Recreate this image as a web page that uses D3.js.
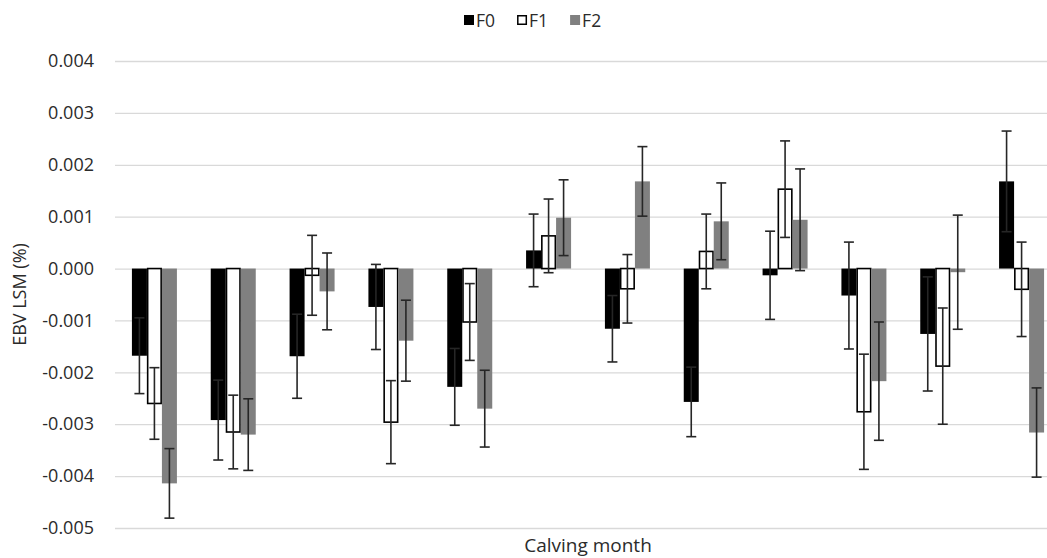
<!DOCTYPE html>
<html>
<head>
<meta charset="utf-8">
<script src="https://cdn.jsdelivr.net/npm/d3@7"></script>
<style>
  body { margin: 0; background: #fff; }
  svg { display: block; font-family: "Open Sans", sans-serif; }
</style>
</head>
<body>
<div id="chart"></div>
<script>
// Datos
const months = ['1','2','3','4','5','6','7','8','9','10','11','12'];
const seriesNames = ['F0','F1','F2'];
const f0 = [-0.00168, -0.00292, -0.00169, -0.00074, -0.00228, 0.00035, -0.00116, -0.00257, -0.00013, -0.00052, -0.00126, 0.00168];
const f0Err = [0.00073, 0.00077, 0.00081, 0.00082, 0.00074, 0.00070, 0.00064, 0.00067, 0.00085, 0.00103, 0.00110, 0.00097];
const f1 = [-0.00260, -0.00315, -0.00013, -0.00296, -0.00103, 0.00063, -0.00039, 0.00033, 0.00153, -0.00276, -0.00188, -0.00040];
const f1Err = [0.00069, 0.00071, 0.00077, 0.00080, 0.00074, 0.00071, 0.00066, 0.00072, 0.00093, 0.00111, 0.00112, 0.00091];
const f2 = [-0.00414, -0.00320, -0.00044, -0.00139, -0.00270, 0.00098, 0.00168, 0.00091, 0.00094, -0.00217, -0.00007, -0.00316];
const f2Err = [0.00067, 0.00069, 0.00074, 0.00078, 0.00074, 0.00073, 0.00067, 0.00074, 0.00098, 0.00114, 0.00110, 0.00086];
const yTicks = [-0.005, -0.004, -0.003, -0.002, -0.001, 0, 0.001, 0.002, 0.003, 0.004];

//Colores
const COLOR_F0 = '#000000',
COLOR_F1 = '#ffffff',
COLOR_F2 = '#808080',
COLOR_GRID = '#d9d9d9',
COLOR_ERR = '#262626',
COLOR_TEXT = '#2b2b2b';

const width = 1047, height = 558;
const margin = {top: 61, left: 115, right: 1061, bottom: 528};

const svg = d3.select('#chart').append('svg')
    .attr('width', width)
    .attr('height', height);

let x = d3.scaleBand()
    .domain(months)
    .range([margin.left, margin.right]);

let groupW = 45;
let xSub = d3.scaleBand()
    .domain(seriesNames)
    .range([(x.bandwidth() - groupW) / 2, (x.bandwidth() + groupW) / 2]);

let y = d3.scaleLinear()
    .domain([-0.005, 0.004])
    .range([margin.bottom, margin.top]);

let color = d3.scaleOrdinal()
    .domain(seriesNames)
    .range([COLOR_F0, COLOR_F1, COLOR_F2]);

// Rejilla
svg.append('g')
    .attr('class', 'grid')
    .attr('transform', 'translate(' + margin.left + ',0)')
    .call(d3.axisLeft(y).tickValues(yTicks).tickSize(-(margin.right - margin.left)).tickFormat(''))
    .call(g => g.select('.domain').remove())
    .call(g => g.selectAll('line').attr('stroke', COLOR_GRID).attr('stroke-width', 1.3));

// Etiquetas eje Y
svg.append('g')
    .attr('class', 'yaxis')
    .attr('transform', 'translate(' + (margin.left - 21) + ',0)')
    .call(d3.axisLeft(y).tickValues(yTicks).tickSize(0).tickPadding(0).tickFormat(d => d.toFixed(3)))
    .call(g => g.select('.domain').remove())
    .call(g => g.selectAll('text')
        .attr('fill', COLOR_TEXT)
        .style('font-size', '18px')
        .style('font-family', '"Open Sans", sans-serif'));

// Datos por serie
const seriesData = [
    {key: 'F0', values: f0, errs: f0Err},
    {key: 'F1', values: f1, errs: f1Err},
    {key: 'F2', values: f2, errs: f2Err}
];

const flat = [];
seriesData.forEach(s => {
    months.forEach((m, i) => {
        flat.push({key: s.key, month: m, value: s.values[i], err: s.errs[i]});
    });
});

svg.append('g')
    .selectAll('rect')
    .data(flat)
    .enter()
    .append('rect')
    .attr('x', d => x(d.month) + xSub(d.key) + (d.key === 'F1' ? 0.75 : 0))
    .attr('y', d => y(Math.max(0, d.value)))
    .attr('width', d => xSub.bandwidth() - (d.key === 'F1' ? 1.5 : 0))
    .attr('height', d => Math.abs(y(d.value) - y(0)))
    .attr('fill', d => color(d.key))
    .attr('stroke', d => d.key === 'F1' ? '#000' : 'none')
    .attr('stroke-width', 1.6);

// Barras de error
let capW = 10;
let errG = svg.append('g')
    .selectAll('g')
    .data(flat)
    .enter()
    .append('g')
    .attr('stroke', COLOR_ERR)
    .attr('stroke-width', 1.6);

errG.append('line')
    .attr('x1', d => x(d.month) + xSub(d.key) + xSub.bandwidth() / 2)
    .attr('x2', d => x(d.month) + xSub(d.key) + xSub.bandwidth() / 2)
    .attr('y1', d => y(d.value + d.err))
    .attr('y2', d => y(d.value - d.err));

errG.append('line')
    .attr('x1', d => x(d.month) + xSub(d.key) + xSub.bandwidth() / 2 - capW / 2)
    .attr('x2', d => x(d.month) + xSub(d.key) + xSub.bandwidth() / 2 + capW / 2)
    .attr('y1', d => y(d.value + d.err))
    .attr('y2', d => y(d.value + d.err));

errG.append('line')
    .attr('x1', d => x(d.month) + xSub(d.key) + xSub.bandwidth() / 2 - capW / 2)
    .attr('x2', d => x(d.month) + xSub(d.key) + xSub.bandwidth() / 2 + capW / 2)
    .attr('y1', d => y(d.value - d.err))
    .attr('y2', d => y(d.value - d.err));

// Titulos de ejes
svg.append('text')
    .attr('x', (margin.left + margin.right) / 2)
    .attr('y', 552)
    .attr('text-anchor', 'middle')
    .attr('fill', COLOR_TEXT)
    .style('font-size', '19px')
    .text('Calving month');

svg.append('text')
    .attr('transform', 'translate(26,' + ((margin.top + margin.bottom) / 2) + ') rotate(-90)')
    .attr('text-anchor', 'middle')
    .attr('fill', COLOR_TEXT)
    .style('font-size', '18px')
    .text('EBV LSM (%)');

// Leyenda
let legend = svg.append('g').attr('class', 'legend');
let lx = 464;
seriesNames.forEach(name => {
    legend.append('rect')
        .attr('x', lx + (name === 'F1' ? 0.75 : 0))
        .attr('y', 15 + (name === 'F1' ? 0.75 : 0))
        .attr('width', name === 'F1' ? 8.5 : 10)
        .attr('height', name === 'F1' ? 8.5 : 10)
        .attr('fill', color(name))
        .attr('stroke', name === 'F1' ? '#000' : 'none')
        .attr('stroke-width', 1.5);
    let t = legend.append('text')
        .attr('x', lx + 12)
        .attr('y', 26.5)
        .attr('fill', COLOR_TEXT)
        .style('font-size', '17.5px')
        .text(name);
    lx += 12 + t.node().getComputedTextLength() + 22;
});
</script>
</body>
</html>
